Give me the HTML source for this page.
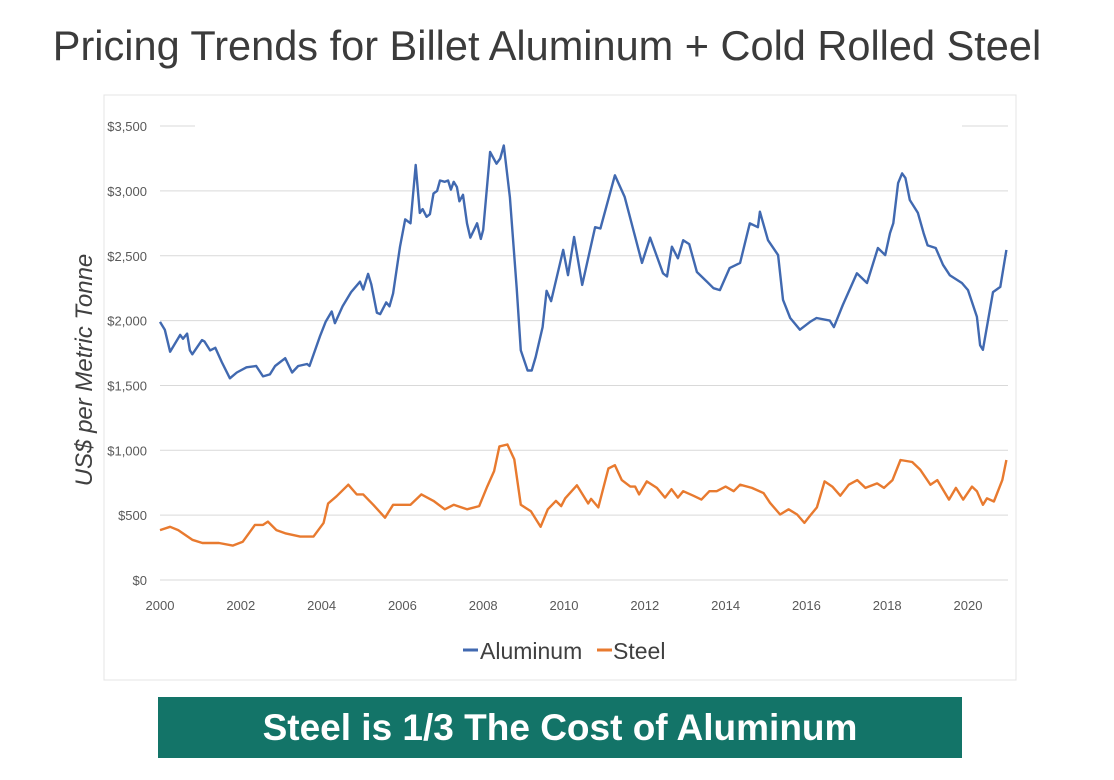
<!DOCTYPE html>
<html><head><meta charset="utf-8"><style>
body{margin:0;width:1114px;height:780px;background:#fff;overflow:hidden;font-family:"Liberation Sans",sans-serif;position:relative}
#title{position:absolute;left:0;width:1094px;top:22px;text-align:center;font-size:41.5px;color:#3b3b3b}
#banner{position:absolute;left:158px;top:697px;width:804px;height:61px;background:#137468;color:#fff;font-weight:bold;font-size:37px;line-height:61px;text-align:center}
svg{position:absolute;left:0;top:0}
</style></head><body>
<div id="title">Pricing Trends for Billet Aluminum + Cold Rolled Steel</div>
<svg id="chart" width="1114" height="780"></svg>
<div id="banner">Steel is 1/3 The Cost of Aluminum</div>
<script>
const alYears=[2000.0,2000.12,2000.25,2000.5,2000.57,2000.67,2000.74,2000.8,2001.04,2001.1,2001.24,2001.37,2001.53,2001.73,2001.9,2002.14,2002.38,2002.55,2002.72,2002.85,2003.1,2003.27,2003.42,2003.64,2003.7,2003.96,2004.1,2004.25,2004.33,2004.52,2004.73,2004.95,2005.03,2005.15,2005.23,2005.37,2005.45,2005.6,2005.68,2005.77,2005.94,2006.07,2006.2,2006.33,2006.43,2006.5,2006.6,2006.68,2006.77,2006.86,2006.93,2007.05,2007.13,2007.2,2007.27,2007.35,2007.41,2007.5,2007.6,2007.68,2007.85,2007.94,2008.0,2008.17,2008.33,2008.42,2008.51,2008.66,2008.83,2008.93,2009.1,2009.2,2009.3,2009.47,2009.57,2009.68,2009.98,2010.1,2010.25,2010.45,2010.77,2010.9,2011.26,2011.5,2011.93,2012.13,2012.45,2012.55,2012.67,2012.82,2012.95,2013.1,2013.29,2013.54,2013.7,2013.86,2014.1,2014.36,2014.6,2014.8,2014.85,2015.05,2015.3,2015.42,2015.6,2015.84,2016.09,2016.25,2016.58,2016.68,2016.9,2017.25,2017.5,2017.77,2017.95,2018.07,2018.15,2018.27,2018.37,2018.45,2018.56,2018.76,2018.9,2019.0,2019.2,2019.38,2019.55,2019.85,2020.0,2020.22,2020.3,2020.37,2020.62,2020.8,2020.95];
const alValues=[1990,1930,1760,1890,1860,1900,1770,1740,1850,1840,1770,1790,1680,1555,1600,1640,1650,1570,1585,1650,1710,1600,1650,1665,1650,1880,1990,2070,1980,2110,2220,2300,2240,2360,2280,2060,2050,2140,2110,2210,2570,2780,2750,3200,2830,2860,2800,2820,2980,3000,3080,3070,3080,3010,3070,3030,2920,2970,2750,2640,2750,2630,2700,3300,3210,3250,3350,2950,2250,1770,1615,1615,1720,1950,2230,2150,2545,2350,2645,2275,2720,2710,3120,2955,2445,2640,2365,2340,2570,2480,2620,2590,2375,2300,2250,2235,2405,2445,2750,2720,2840,2620,2505,2160,2020,1930,1990,2020,2000,1950,2120,2365,2290,2560,2505,2675,2750,3060,3135,3100,2930,2830,2675,2580,2560,2430,2350,2290,2235,2030,1810,1775,2220,2260,2545];
const stYears=[2000.0,2000.25,2000.45,2000.8,2001.05,2001.46,2001.8,2002.05,2002.2,2002.35,2002.55,2002.67,2002.88,2003.1,2003.47,2003.8,2004.05,2004.16,2004.37,2004.66,2004.87,2005.03,2005.28,2005.57,2005.77,2006.2,2006.47,2006.77,2007.05,2007.27,2007.6,2007.9,2008.1,2008.27,2008.4,2008.6,2008.77,2008.93,2009.18,2009.42,2009.6,2009.8,2009.93,2010.03,2010.32,2010.6,2010.67,2010.85,2011.1,2011.26,2011.43,2011.64,2011.76,2011.86,2012.05,2012.3,2012.5,2012.66,2012.82,2012.95,2013.2,2013.4,2013.6,2013.78,2014.0,2014.2,2014.36,2014.65,2014.94,2015.1,2015.35,2015.56,2015.77,2015.95,2016.09,2016.26,2016.45,2016.64,2016.84,2017.05,2017.26,2017.46,2017.75,2017.92,2018.13,2018.33,2018.62,2018.82,2019.07,2019.24,2019.53,2019.7,2019.88,2020.1,2020.22,2020.37,2020.47,2020.64,2020.85,2020.95];
const stValues=[385,410,385,310,285,285,265,295,360,425,425,450,385,360,335,335,440,590,645,735,660,660,580,480,580,580,660,610,545,580,545,570,720,840,1030,1045,930,580,530,410,545,610,570,630,730,590,625,560,860,885,770,720,720,660,760,710,635,700,635,685,650,620,685,685,720,685,735,710,670,595,505,545,505,440,495,560,760,720,650,735,770,710,745,710,770,925,910,850,735,770,620,710,620,720,685,580,630,605,770,925];
const yTicks=[0,500,1000,1500,2000,2500,3000,3500];
const yTickLabels=["$0","$500","$1,000","$1,500","$2,000","$2,500","$3,000","$3,500"];
const xTicks=[2000,2002,2004,2006,2008,2010,2012,2014,2016,2018,2020];

const NS="http://www.w3.org/2000/svg";
const svg=document.getElementById('chart');
const X=y=>160+(y-2000)*40.4;
const Y=v=>580-v*0.1297;
function mk(tag,attrs,parent){const e=document.createElementNS(NS,tag);for(const k in attrs)e.setAttribute(k,attrs[k]);(parent||svg).appendChild(e);return e;}

const frame=mk('rect',{x:104,y:95,width:912,height:585,fill:'none',stroke:'#e4e4e4','stroke-width':1});



yTicks.forEach((v,i)=>{
  if(v===3500){
    const g1=mk('line',{x1:160,x2:195,y1:Y(v),y2:Y(v),stroke:'#d9d9d9'});
    
    
    const g2=mk('line',{x1:962,x2:1008,y1:Y(v),y2:Y(v),stroke:'#d9d9d9'});
    
    
  } else {
    const g=mk('line',{x1:160,x2:1008,y1:Y(v),y2:Y(v),stroke:'#d9d9d9'});
    
    
  }
  const t=mk('text',{x:147,y:Y(v)+5,'text-anchor':'end','font-size':13,fill:'#595959','font-family':'Liberation Sans Narrow, Liberation Sans, sans-serif'});
  t.textContent=yTickLabels[i];
  
  
});
xTicks.forEach(yr=>{
  const t=mk('text',{x:X(yr),y:610,'text-anchor':'middle','font-size':13,fill:'#595959','font-family':'Liberation Sans Narrow, Liberation Sans, sans-serif'});
  t.textContent=yr;
  
  
});
const yt=mk('text',{x:0,y:0,transform:'translate(92,370) rotate(-90)','text-anchor':'middle','font-size':24,'font-style':'italic',fill:'#404040'});
yt.textContent='US$ per Metric Tonne';



function line(xs,vs,color,name){
  const d=xs.map((x,i)=>(i?'L':'M')+X(x).toFixed(1)+','+Y(vs[i]).toFixed(1)).join('');
  const p=mk('path',{d:d,fill:'none',stroke:color,'stroke-width':2.4,'stroke-linejoin':'round'});
  
  
}
line(alYears,alValues,'#4169b0','aluminum-line');
line(stYears,stValues,'#e87a2f','steel-line');

const l1=mk('line',{x1:463,x2:478,y1:650,y2:650,stroke:'#4169b0','stroke-width':3});


const lt1=mk('text',{x:480,y:659,'font-size':23,fill:'#404040','font-family':'Liberation Sans Narrow, Liberation Sans, sans-serif'});
lt1.textContent='Aluminum';


const l2=mk('line',{x1:597,x2:612,y1:650,y2:650,stroke:'#e87a2f','stroke-width':3});


const lt2=mk('text',{x:613,y:659,'font-size':23,fill:'#404040','font-family':'Liberation Sans Narrow, Liberation Sans, sans-serif'});
lt2.textContent='Steel';


</script>
</body></html>
